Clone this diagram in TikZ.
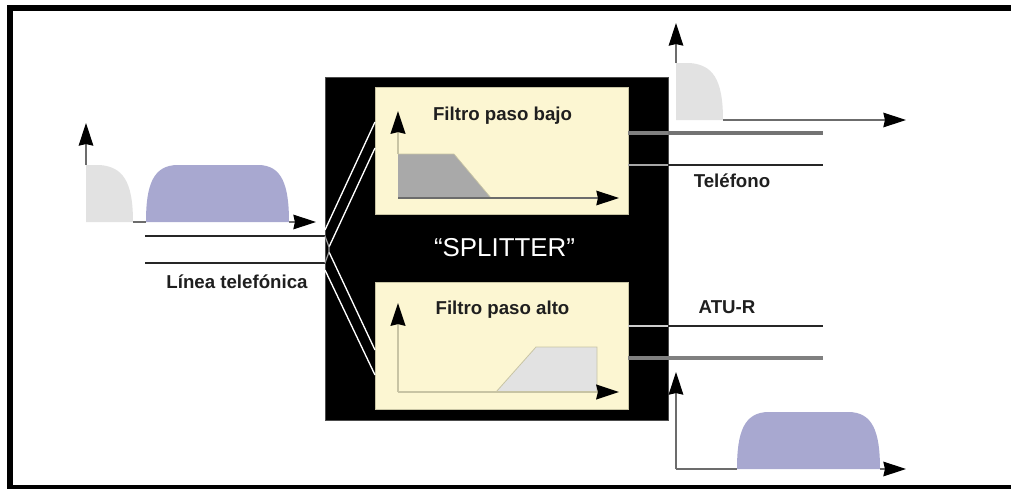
\documentclass[tikz,border=0pt]{standalone}
\usepackage{fontspec}
\setmainfont{Liberation Sans}
\usetikzlibrary{arrows.meta}
\definecolor{spblue}{HTML}{A8A8D0}
\definecolor{splight}{HTML}{E2E2E2}
\definecolor{spyellow}{HTML}{FCF6D2}
\definecolor{sptan}{HTML}{C8C4A4}
\definecolor{spdark}{HTML}{A9A9A9}
\tikzset{
  x=0.75pt,y=-0.75pt,
  axisline/.style={draw=#1,line width=0.8pt,-{Stealth[length=17pt,width=11pt,inset=1.2pt,color=black,fill=black]}},
  axisline/.default={gray!85!black},
  plainaxis/.style={draw=gray!85!black,line width=0.8pt},
  thinwire/.style={line width=1pt,draw=black!85},
  thickwire/.style={line width=2.8pt,draw=black!55},
  thinwirein/.style={line width=1pt,draw=black!35},
  thickwirein/.style={line width=2.8pt,draw=black!50},
  fanwire/.style={line width=1pt,draw=white},
  label/.style={font=\fontsize{14}{16}\selectfont\bfseries,text=black!88,inner sep=0pt},
  blackbox/.style={fill=black,draw=black!70,line width=0.4pt,minimum width=257.25pt,minimum height=257.25pt,anchor=north west,inner sep=0pt},
  filterbox/.style={fill=spyellow,draw=sptan,line width=0.5pt,minimum width=189.75pt,minimum height=95.25pt,anchor=north west,inner sep=0pt},
}
\begin{document}
\begin{tikzpicture}
\useasboundingbox (0,0) rectangle (1011,489);
\fill[white] (0,0) rectangle (1011,489);
% frame
\fill[black] (7,5) rectangle (1011,11);
\fill[black] (7,5) rectangle (13,489);
\fill[black] (7,485) rectangle (1011,489);

% splitter
\node[blackbox] (split) at (325,77) {};
\node[filterbox] (low) at (375,87) {};
\node[filterbox] (high) at (375,282) {};
\node[font=\fontsize{19.4}{22}\selectfont,text=white,inner sep=0pt] (splabel) at (504.5,248) {“SPLITTER”};
\node[label] (lowlabel) at (502.5,116) {Filtro paso bajo};
\node[label] (highlabel) at (502.5,310) {Filtro paso alto};

% input spectrum
\fill[splight] (86,222) -- (86,165) -- (100,165) .. controls (122,167) and (133,180) .. (133,222) -- cycle;
\fill[spblue] (146,222) .. controls (146,185) and (153,165) .. (178,165) -- (258,165) .. controls (282,165) and (289,185) .. (289,222) -- cycle;
\coordinate (inY) at (86,123);
\coordinate (inX) at (316,222);
\draw[axisline] (86,165) -- (inY);
\draw[plainaxis] (133,222) -- (146,222);
\draw[axisline] (289,222) -- (inX);

% input line
\coordinate (lineA) at (145,236);
\coordinate (lineB) at (145,263);
\coordinate (lineAe) at (325,236);
\coordinate (lineBe) at (325,263);
\draw[thinwire] (lineA) -- (lineAe);
\draw[thinwire] (lineB) -- (lineBe);
\node[label] (linelabel) at (237,282) {Línea telefónica};

% fan
\coordinate (fanA) at (325,230);
\coordinate (fanB) at (329,247);
\coordinate (fanC) at (329,252);
\coordinate (fanD) at (325,270);
\coordinate (lowA) at (375,122);
\coordinate (lowB) at (375,148);
\coordinate (highA) at (375,350);
\coordinate (highB) at (375,375);
\draw[fanwire] (fanA) -- (lowA);
\draw[fanwire] (fanB) -- (lowB);
\draw[fanwire] (fanC) -- (highA);
\draw[fanwire] (fanD) -- (highB);
\draw[line width=0.9pt,draw=black!40] (lineAe) -- (fanB) -- (fanC) -- (lineBe);

% low plot
\fill[spdark] (398,198) -- (398,154) -- (454,154) -- (491,198) -- cycle;
\draw[line width=0.5pt,draw=sptan] (398,154) -- (454,154) -- (491,198);
\coordinate (lowO) at (398,198);
\coordinate (lowY) at (398,111);
\coordinate (lowX) at (619,198);
\draw[axisline=sptan,line width=2pt] (398,154) -- (lowY);
\draw[axisline] (491,198) -- (lowX);
\draw[plainaxis] (lowO) -- (491,198);

% high plot
\fill[splight] (496,392) -- (536,347) -- (597,347) -- (597,392) -- cycle;
\draw[line width=0.6pt,draw=sptan] (496,392) -- (536,347) -- (597,347) -- (597,392);
\coordinate (highO) at (398,392);
\coordinate (highY) at (398,303);
\coordinate (highX) at (619,392);
\draw[axisline=sptan,line width=2pt] (highO) -- (highY);
\draw[axisline=sptan,line width=2pt] (highO) -- (highX);

% outputs
\coordinate (o1a) at (628,133);
\coordinate (o1b) at (668,133);
\coordinate (o1c) at (823,133);
\coordinate (o2a) at (628,165);
\coordinate (o2b) at (668,165);
\coordinate (o2c) at (823,165);
\coordinate (o3a) at (628,326);
\coordinate (o3b) at (668,326);
\coordinate (o3c) at (823,326);
\coordinate (o4a) at (628,358);
\coordinate (o4b) at (668,358);
\coordinate (o4c) at (823,358);
\draw[thickwirein] (o1a) -- (o1b);
\draw[thickwire] (o1b) -- (o1c);
\draw[thinwirein] (o2a) -- (o2b);
\draw[thinwire] (o2b) -- (o2c);
\draw[line width=1pt,draw=black!20] (o3a) -- (o3b);
\draw[thinwire] (o3b) -- (o3c);
\draw[thickwirein] (o4a) -- (o4b);
\draw[thickwire,draw=black!50] (o4b) -- (o4c);
\node[label] (tellabel) at (732,181) {Teléfono};
\node[label] (atulabel) at (727,307) {ATU-R};

% top right spectrum
\fill[splight] (676,120) -- (676,63) -- (690,63) .. controls (712,65) and (723,78) .. (723,120) -- cycle;
\coordinate (trY) at (676,23);
\coordinate (trX) at (906,120);
\draw[axisline] (676,63) -- (trY);
\draw[axisline] (723,120) -- (trX);

% bottom right spectrum
\fill[spblue] (737,469) .. controls (737,432) and (744,412) .. (769,412) -- (848,412) .. controls (873,412) and (880,432) .. (880,469) -- cycle;
\coordinate (brO) at (676,469);
\coordinate (brY) at (676,372);
\coordinate (brX) at (906,469);
\coordinate (brS) at (737,469);
\coordinate (brE) at (880,469);
\draw[axisline] (brO) -- (brY);
\draw[plainaxis] (brO) -- (brS);
\draw[axisline] (brE) -- (brX);
\end{tikzpicture}
\end{document}
